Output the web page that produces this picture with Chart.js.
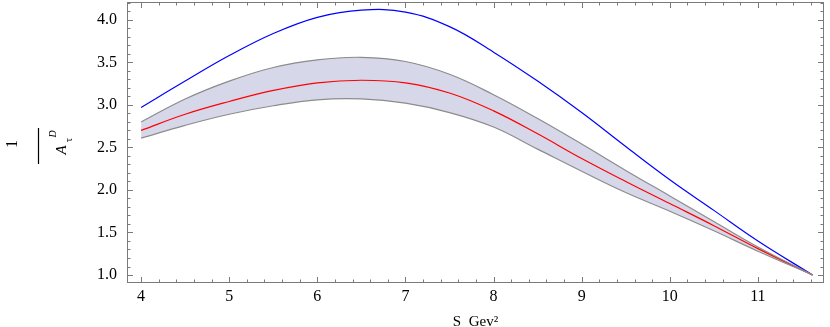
<!DOCTYPE html>
<html>
<head>
<meta charset="utf-8">
<script src="https://cdn.jsdelivr.net/npm/chart.js@4/dist/chart.umd.min.js"></script>
<style>
  html, body { margin: 0; padding: 0; background: #fff; }
  #wrap { width: 830px; height: 327px; position: relative; }
</style>
</head>
<body>
<div id="wrap"><canvas id="chart"></canvas></div>
<script>
// values
const sValues = [4, 4.5, 5, 5.5, 6, 6.5, 7, 7.5, 8, 8.5, 9, 9.5, 10, 10.5, 11, 11.62];
const blueCurve = [2.97, 3.28, 3.58, 3.84, 4.03, 4.115, 4.09, 3.92, 3.62, 3.28, 2.91, 2.51, 2.12, 1.76, 1.40, 1.0];
const redCurve = [2.70, 2.89, 3.04, 3.17, 3.26, 3.29, 3.26, 3.14, 2.93, 2.66, 2.37, 2.10, 1.84, 1.58, 1.31, 1.0];
const bandUpper = [2.80, 3.07, 3.28, 3.44, 3.53, 3.56, 3.51, 3.36, 3.12, 2.84, 2.54, 2.23, 1.93, 1.63, 1.33, 1.0];
const bandLower = [2.61, 2.76, 2.89, 2.99, 3.06, 3.07, 3.02, 2.91, 2.74, 2.48, 2.22, 1.97, 1.75, 1.52, 1.28, 1.0];

const xTicks = [4, 5, 6, 7, 8, 9, 10, 11];
const yTicks = [1.0, 1.5, 2.0, 2.5, 3.0, 3.5, 4.0];

const FONT = "'Liberation Serif', 'DejaVu Serif', serif";
const FRAME = "#7a7a7a";

function pts(ys) {
  return sValues.map((x, i) => ({ x: x, y: ys[i] }));
}

// frame with inward ticks on all four sides (Mathematica look)
const frameTicks = {
  id: "frameTicks",
  afterDatasetsDraw(chart) {
    const { ctx, chartArea: a, scales } = chart;
    const xs = scales.x, ys = scales.y;
    ctx.save();
    ctx.strokeStyle = FRAME;
    ctx.lineWidth = 1;
    ctx.strokeRect(a.left + 0.5, a.top + 0.5, a.right - a.left - 1, a.bottom - a.top - 1);
    ctx.beginPath();
    for (let v = 3.8; v <= 11.8; v += 0.2) {
      const x = Math.round(xs.getPixelForValue(v)) + 0.5;
      if (x <= a.left + 1 || x >= a.right - 1) continue;
      const major = xTicks.some((t) => Math.abs(t - v) < 1e-6);
      const len = major ? 6 : 3.5;
      ctx.moveTo(x, a.bottom); ctx.lineTo(x, a.bottom - len);
      ctx.moveTo(x, a.top); ctx.lineTo(x, a.top + len);
    }
    for (let v = 0.9; v <= 4.25; v += 0.1) {
      const y = Math.round(ys.getPixelForValue(v)) + 0.5;
      if (y <= a.top + 1 || y >= a.bottom - 1) continue;
      const major = yTicks.some((t) => Math.abs(t - v) < 1e-6);
      const len = major ? 6 : 3.5;
      ctx.moveTo(a.left, y); ctx.lineTo(a.left + len, y);
      ctx.moveTo(a.right, y); ctx.lineTo(a.right - len, y);
    }
    ctx.stroke();
    ctx.restore();
  },
};

// rotated fraction 1 / A_tau^D as the y axis title
const yTitle = {
  id: "yTitle",
  afterDraw(chart) {
    const ctx = chart.ctx;
    ctx.save();
    ctx.translate(38, 146);
    ctx.rotate(-Math.PI / 2);
    ctx.fillStyle = "#000";
    ctx.textAlign = "center";
    ctx.textBaseline = "middle";
    ctx.font = "16px " + FONT;
    ctx.fillText("1", 2, -25);
    ctx.strokeStyle = "#000";
    ctx.lineWidth = 1.2;
    ctx.beginPath();
    ctx.moveTo(-18, 0.5); ctx.lineTo(18, 0.5);
    ctx.stroke();
    ctx.font = "italic 15px " + FONT;
    ctx.fillText("A", -4, 24);
    ctx.font = "11px " + FONT;
    ctx.fillText("\u03c4", 6, 31);
    ctx.font = "italic 10px " + FONT;
    ctx.fillText("D", 12, 15);
    ctx.restore();
  },
};

const lineStyle = { borderWidth: 1.2, pointRadius: 0, tension: 0.4, fill: false };
const noGrid = { display: false, drawTicks: false, tickLength: 0 };

new Chart(document.getElementById("chart"), {
  type: "line",
  data: {
    datasets: [
      Object.assign({}, lineStyle, {
        data: pts(bandUpper),
        borderColor: "#8c8c8c",
        backgroundColor: "rgba(214,216,234,1)",
        fill: "+1",
      }),
      Object.assign({}, lineStyle, { data: pts(bandLower), borderColor: "#8c8c8c" }),
      Object.assign({}, lineStyle, { data: pts(redCurve), borderColor: "#ff0000" }),
      Object.assign({}, lineStyle, { data: pts(blueCurve), borderColor: "#0000ff" }),
    ],
  },
  options: {
    responsive: true,
    maintainAspectRatio: false,
    animation: false,
    layout: { autoPadding: false, padding: { top: 2, right: 6, left: 0, bottom: 0 } },
    plugins: {
      legend: { display: false },
      tooltip: { enabled: false },
      filler: { drawTime: "beforeDatasetsDraw" },
    },
    scales: {
      x: {
        type: "linear",
        min: 3.84,
        max: 11.75,
        afterBuildTicks: (scale) => {
          scale.ticks = xTicks.map((v) => ({ value: v }));
        },
        afterFit: (scale) => {
          scale.height = 44;
          scale.paddingLeft = 0;
          scale.paddingRight = 0;
        },
        grid: noGrid,
        border: { display: false },
        ticks: {
          color: "#000",
          font: { family: FONT, size: 16 },
          padding: 4,
          maxRotation: 0,
          callback: (v) => String(v),
        },
        title: {
          display: true,
          text: "S  Gev\u00b2",
          color: "#000",
          font: { family: FONT, size: 15 },
          padding: { top: 4, bottom: -4 },
        },
      },
      y: {
        type: "linear",
        min: 0.906,
        max: 4.21,
        afterBuildTicks: (scale) => {
          scale.ticks = yTicks.map((v) => ({ value: v }));
        },
        afterFit: (scale) => {
          scale.width = 127;
          scale.paddingTop = 0;
          scale.paddingBottom = 0;
        },
        grid: noGrid,
        border: { display: false },
        ticks: {
          color: "#000",
          font: { family: FONT, size: 16 },
          padding: 10,
          callback: (v) => v.toFixed(1),
        },
      },
    },
  },
  plugins: [frameTicks, yTitle],
});
</script>
</body>
</html>
